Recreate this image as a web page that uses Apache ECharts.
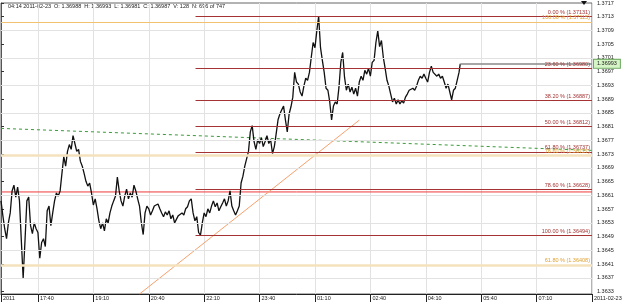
<!DOCTYPE html>
<html><head><meta charset="utf-8">
<script src="https://cdn.jsdelivr.net/npm/echarts@6/dist/echarts.min.js"></script>
<style>html,body{margin:0;padding:0;background:#fff}#c{width:625px;height:302px}</style>
</head><body><div id="c"></div>
<script>
// close prices, one every 3 minutes from 16:40 (2011-02-22), last at bar 747
const closes = [
1.36594,1.36551,1.36513,1.36484,1.36530,1.36559,1.36623,1.36640,1.36605,1.36634,
1.36594,1.36479,1.36369,1.36479,1.36594,1.36605,1.36522,1.36499,1.36530,1.36513,
1.36502,1.36427,1.36473,1.36484,1.36461,1.36565,1.36579,1.36522,1.36559,1.36594,
1.36617,1.36608,1.36623,1.36674,1.36723,1.36695,1.36738,1.36758,1.36744,1.36784,
1.36761,1.36738,1.36744,1.36709,1.36695,1.36674,1.36651,1.36637,1.36646,1.36617,
1.36582,1.36600,1.36571,1.36536,1.36513,1.36530,1.36507,1.36542,1.36530,1.36559,
1.36579,1.36594,1.36608,1.36663,1.36623,1.36594,1.36579,1.36608,1.36628,1.36600,
1.36617,1.36605,1.36640,1.36623,1.36600,1.36579,1.36530,1.36496,1.36559,1.36579,
1.36571,1.36553,1.36565,1.36579,1.36574,1.36585,1.36571,1.36559,1.36548,1.36562,
1.36553,1.36565,1.36542,1.36553,1.36530,1.36528,1.36551,1.36548,1.36559,1.36553,
1.36571,1.36577,1.36594,1.36600,1.36559,1.36536,1.36548,1.36502,1.36494,1.36530,
1.36559,1.36548,1.36571,1.36559,1.36579,1.36594,1.36577,1.36588,1.36565,1.36577,
1.36588,1.36600,1.36579,1.36594,1.36623,1.36579,1.36565,1.36553,1.36565,1.36579,
1.36646,1.36666,1.36695,1.36698,1.36738,1.36795,1.36813,1.36767,1.36744,1.36772,
1.36761,1.36778,1.36752,1.36767,1.36784,1.36761,1.36772,1.36732,1.36752,1.36790,
1.36830,1.36847,1.36859,1.36870,1.36830,1.36795,1.36847,1.36868,1.36896,1.36968,
1.36940,1.36934,1.36911,1.36899,1.36928,1.36951,1.36945,1.36968,1.37012,1.37055,
1.37040,1.37089,1.37131,1.37040,1.37003,1.36968,1.36922,1.36916,1.36882,1.36830,
1.36870,1.36882,1.36876,1.36925,1.36997,1.37026,1.36954,1.36916,1.36934,1.36911,
1.36925,1.36905,1.36922,1.36899,1.36940,1.36957,1.36945,1.36974,1.36963,1.36980,
1.36957,1.36997,1.37003,1.37055,1.37089,1.37043,1.37061,1.37012,1.36980,1.36945,
1.36928,1.36905,1.36882,1.36893,1.36876,1.36888,1.36876,1.36885,1.36879,1.36896,
1.36905,1.36916,1.36911,1.36922,1.36916,1.36928,1.36945,1.36957,1.36951,1.36963,
1.36951,1.36940,1.36968,1.36986,1.36968,1.36963,1.36957,1.36963,1.36951,1.36957,
1.36940,1.36922,1.36934,1.36911,1.36888,1.36916,1.36922,1.36945,1.36968,1.36993
];
const lastBar = 746;
const times = closes.map((v, i) => (i < closes.length - 1 ? i * 3 : lastBar)); // minutes since 16:40

const xTickMinutes = [0, 60, 150, 240, 330, 420, 510, 600, 690, 780, 870, 960];
const xTickLabels = ['2011', '17:40', '19:10', '20:40', '22:10', '23:40', '01:10', '02:40', '04:10', '05:40', '07:10', '2011-02-23'];
const yTicks = [1.3633,1.3637,1.3641,1.3645,1.3649,1.3653,1.3657,1.3661,1.3665,1.3669,1.3673,
                1.3677,1.3681,1.3685,1.3689,1.3693,1.3697,1.3701,1.3705,1.3709,1.3713,1.3717];
const gridLevels = [1.3637,1.3645,1.3653,1.3661,1.3669,1.3677,1.3685,1.3693,1.3701,1.3709];

const fibRedPct = ['0.00', '23.60', '38.20', '50.00', '61.80', '78.60', '100.00'];
const fibRedLevels = [1.37131, 1.36980, 1.36887, 1.36812, 1.36737, 1.36628, 1.36494];
const fibRedStart = 316;
const fibOrangePct = ['100.00', '78.60', '61.80'];
const fibOrangeLevels = [1.37115, 1.36727, 1.36408];
const supportLine = [[0, 1.36620], [960, 1.36620]];
const greenLine = [[0, 1.36805], [960, 1.36741]];
const trendLine = [[225, 1.36323], [582, 1.36829]];
const lastPrice = 1.36993;
const header = '04:14 2011-02-23  O: 1.36988  H: 1.36993  L: 1.36981  C: 1.36987  V: 128  N: 696 of 747';

const FONT = 'Liberation Sans';
const X_MAX = 960, Y_MIN = 1.36323, Y_MAX = 1.3717;

function hLine(start, level, color, width, labelText, labelColor) {
  return [{
    coord: [start, level],
    lineStyle: { color: color, width: width, type: 'solid', opacity: 1 },
    label: labelText ? {
      show: true, position: 'insideEndTop', formatter: labelText, color: labelColor,
      fontSize: 5.5, fontFamily: FONT, distance: [2, 1]
    } : { show: false }
  }, { coord: [X_MAX, level] }];
}

const markData = [];
gridLevels.forEach(v => markData.push(hLine(0, v, '#e2e2e2', 1, null)));
markData.push(hLine(0, fibOrangeLevels[0], '#f2c270', 1, fibOrangePct[0] + ' % (' + fibOrangeLevels[0].toFixed(5) + ')', '#e0a030'));
markData.push(hLine(0, fibOrangeLevels[1], '#f4e2bd', 2.5, fibOrangePct[1] + ' % (' + fibOrangeLevels[1].toFixed(5) + ')', '#e0a030'));
markData.push(hLine(0, fibOrangeLevels[2], '#f4e2bd', 2.5, fibOrangePct[2] + ' % (' + fibOrangeLevels[2].toFixed(5) + ')', '#e0a030'));
fibRedLevels.forEach((v, i) => markData.push(hLine(fibRedStart, v, '#a53333', 1, fibRedPct[i] + ' % (' + v.toFixed(5) + ')', '#a53333')));

const chart = echarts.init(document.getElementById('c'), null, { renderer: 'canvas' });
chart.setOption({
  animation: false,
  backgroundColor: '#ffffff',
  grid: { left: 1, right: 33, top: 0, bottom: 8, show: true, borderColor: '#666', borderWidth: 1, backgroundColor: 'transparent' },
  xAxis: {
    type: 'value', min: 0, max: X_MAX, interval: 30,
    axisLine: { show: true, lineStyle: { color: '#222', width: 1 } },
    axisTick: { show: true, length: 8, lineStyle: { color: '#222' }, customValues: xTickMinutes },
    axisLabel: {
      show: true, customValues: xTickMinutes, fontSize: 5.5, fontFamily: FONT, color: '#222',
      align: 'left', margin: 1, padding: [0, 0, 0, 2],
      formatter: v => { const k = xTickMinutes.indexOf(v); return k >= 0 ? xTickLabels[k] : ''; }
    },
    splitLine: { show: true, lineStyle: { color: '#e2e2e2', width: 1 } }
  },
  yAxis: {
    type: 'value', position: 'right', min: Y_MIN, max: Y_MAX, scale: true,
    axisLine: { show: true, lineStyle: { color: '#555', width: 1 } },
    axisTick: { show: true, length: 3, inside: false, lineStyle: { color: '#333' }, customValues: yTicks },
    axisLabel: { show: true, customValues: yTicks, fontSize: 5.5, fontFamily: FONT, color: '#222', margin: 5,
      formatter: v => v.toFixed(4) },
    splitLine: { show: false }
  },
  series: [
    { type: 'line', data: [], markLine: { silent: true, symbol: ['none', 'none'], animation: false, data: markData } },
    { type: 'line', data: supportLine, showSymbol: false, symbol: 'none', lineStyle: { color: '#f03a3a', width: 1 }, silent: true },
    { type: 'line', data: greenLine, showSymbol: false, symbol: 'none', lineStyle: { color: '#3a9a3a', width: 1, type: [3, 3] }, silent: true },
    { type: 'line', data: trendLine, showSymbol: false, symbol: 'none', lineStyle: { color: '#f7a06c', width: 1 }, silent: true },
    { type: 'line', data: times.map((t, i) => [t, closes[i]]), showSymbol: false, symbol: 'none',
      lineStyle: { color: '#111', width: 1.3 }, silent: true },
    { type: 'line', data: [], markLine: { silent: true, symbol: ['none', 'none'], animation: false,
      data: [[{ coord: [lastBar, lastPrice], lineStyle: { color: '#888', width: 1.5, type: 'solid' },
        label: { show: true, position: 'end', formatter: lastPrice.toFixed(5), fontSize: 5.5, fontFamily: FONT,
          color: '#222', backgroundColor: '#d6f5c6', borderColor: '#6aa85e', borderWidth: 1, padding: [1, 3, 1, 3], distance: 2 } },
        { coord: [X_MAX, lastPrice] }]] } }
  ],
  graphic: [
    { type: 'text', left: 8, top: 3, style: { text: header, fontSize: 5.5, fontFamily: FONT, fill: '#222' } },
    { type: 'polygon', shape: { points: [[581, 1], [587, 1], [584, 5]] }, style: { fill: '#111' } }
  ]
});
</script></body></html>
